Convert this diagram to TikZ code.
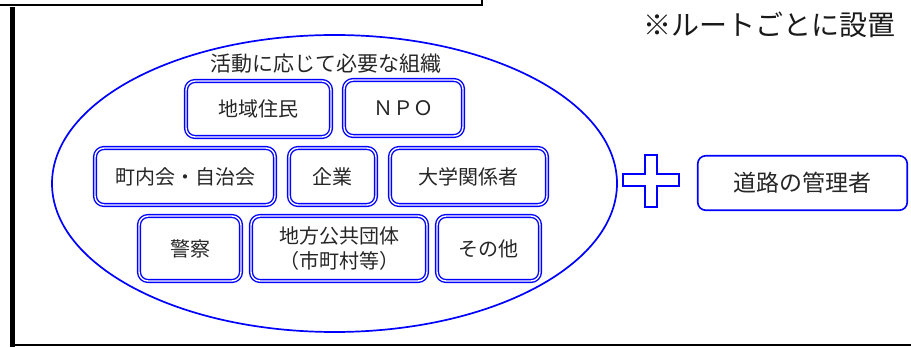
\documentclass[tikz,border=0pt]{standalone}
\usepackage{fontspec}
\setmainfont{Noto Sans CJK JP}
\usepackage{tikz}
\usetikzlibrary{positioning}

\begin{document}
\begin{tikzpicture}[x=1pt, y=-1pt,
    orgbox/.style={draw=blue, double=white, double distance=1.4pt, line width=1.4pt,
        rounded corners=9pt, inner sep=0pt, outer sep=0pt, align=center,
        text=black!85, font=\fontsize{20}{25}\selectfont},
    mgrbox/.style={draw=blue, line width=1.6pt, rounded corners=8pt, inner sep=0pt,
        outer sep=0pt, text=black!85, font=\fontsize{23}{28}\selectfont}]
    \useasboundingbox (0,0) rectangle (911,347);

    % Frame pieces
    \draw[line width=1.5pt] (0,5) -- (482,5) -- (482,0);
    \draw[line width=5pt] (12.5,7) -- (12.5,347);
    \draw[line width=2pt] (10,345) -- (911,345);

    % Note
    \node[text=black!90, font=\fontsize{28}{32}\selectfont] (note) at (769.5,25) {※ルートごとに設置};

    % Organisations
    \draw[blue, line width=1.7pt] (334.5,183.5) ellipse (282.5 and 148.5);
    \node[text=black!85, font=\fontsize{21}{24}\selectfont] (title) at (326,64) {活動に応じて必要な組織};

    \node[orgbox, minimum width=145pt, minimum height=56pt] (res) at (258.5,109) {地域住民};
    \node[orgbox, minimum width=119pt, minimum height=56pt] (npo) at (403.5,108) {ＮＰＯ};
    \node[orgbox, minimum width=180pt, minimum height=57pt] (assoc) at (185,176.5) {町内会・自治会};
    \node[orgbox, minimum width=87pt, minimum height=57pt] (firm) at (332.5,176.5) {企業};
    \node[orgbox, minimum width=157pt, minimum height=57pt] (univ) at (468.5,176.5) {大学関係者};
    \node[orgbox, minimum width=102pt, minimum height=65pt] (police) at (190,248.5) {警察};
    \node[orgbox, minimum width=176pt, minimum height=65pt] (local) at (339,248.5) {地方公共団体\\（市町村等）};
    \node[orgbox, minimum width=103pt, minimum height=65pt] (other) at (488.5,248.5) {その他};

    % Plus sign
    \draw[blue, line width=1.6pt] (645,155) -- (657,155) -- (657,174) -- (679,174) -- (679,186)
        -- (657,186) -- (657,207) -- (645,207) -- (645,186) -- (623,186) -- (623,174) -- (645,174) -- cycle;

    % Road manager
    \node[mgrbox, minimum width=209.5pt, minimum height=54.5pt] (mgr) at (802.5,183) {道路の管理者};
\end{tikzpicture}
\end{document}
